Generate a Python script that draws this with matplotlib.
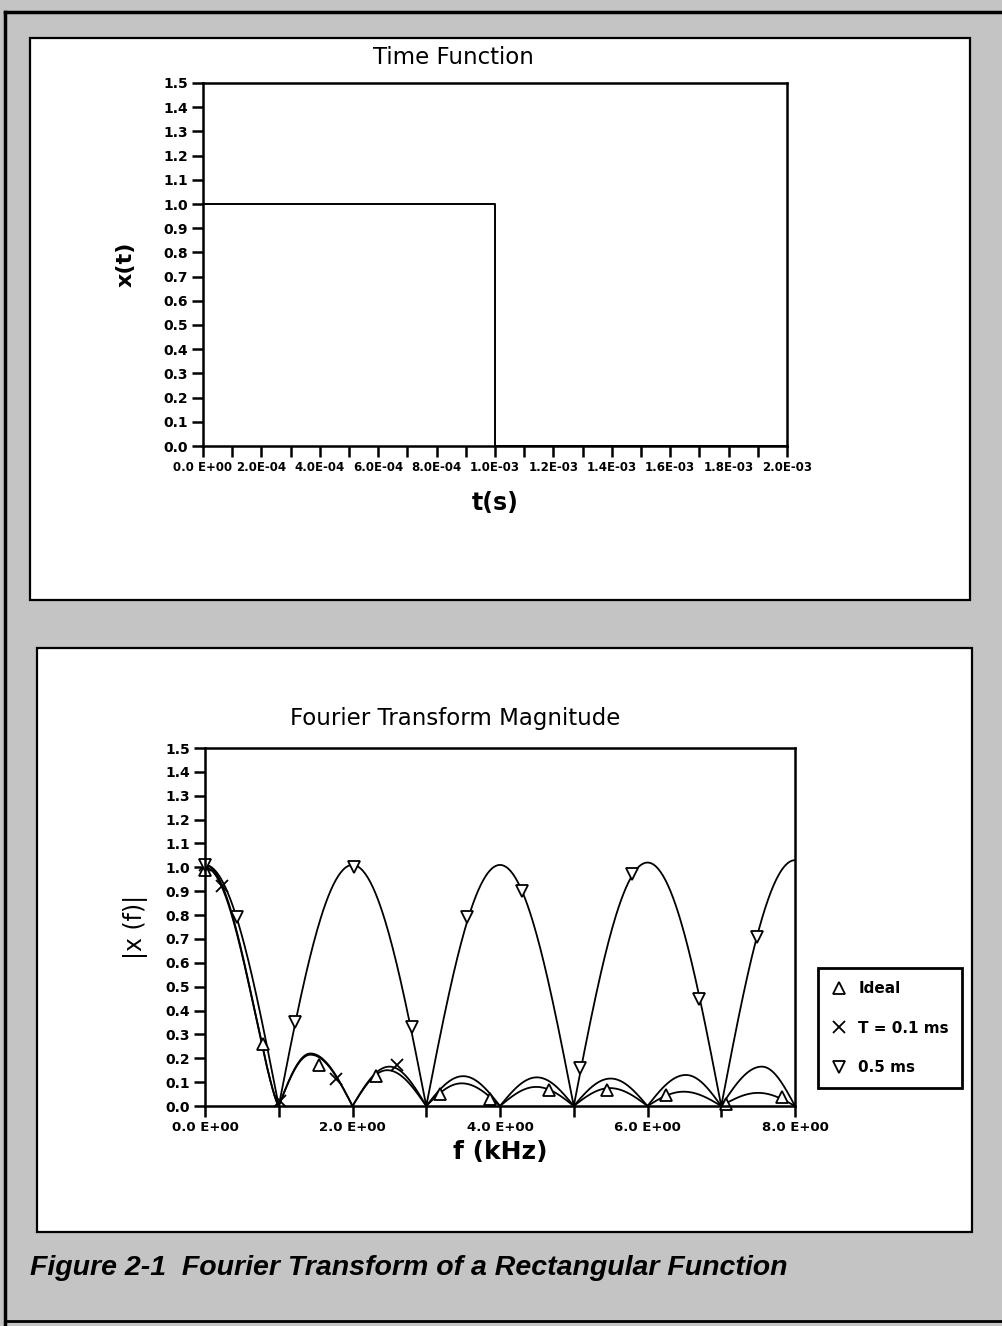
import numpy as np
import matplotlib
matplotlib.use("Agg")
import matplotlib.pyplot as plt
from matplotlib.patches import Rectangle
from matplotlib.lines import Line2D

# ---------------- data ----------------
# Time function (rectangular pulse)
time_s = [0.0, 1.0e-3, 1.0e-3, 2.0e-3]
x_t = [1.0, 1.0, 0.0, 0.0]
time_ticks = [0.0, 2e-4, 4e-4, 6e-4, 8e-4, 1.0e-3, 1.2e-3, 1.4e-3, 1.6e-3, 1.8e-3, 2.0e-3]
time_tick_labels = ["0.0 E+00", "2.0E-04", "4.0E-04", "6.0E-04", "8.0E-04", "1.0E-03",
                    "1.2E-03", "1.4E-03", "1.6E-03", "1.8E-03", "2.0E-03"]
y_ticks = [round(0.1 * i, 1) for i in range(16)]
y_tick_labels = ["%.1f" % v for v in y_ticks]

# Fourier magnitude: lobes (lobe edges = zeros, peak position, peak value)
ideal_edges = [0, 1, 2, 3, 4, 5, 6, 7, 8]
ideal_peak_f = [0.0, 1.43, 2.47, 3.48, 4.49, 5.49, 6.49, 7.50]
ideal_peak_v = [1.00, 0.215, 0.150, 0.095, 0.080, 0.075, 0.060, 0.055]

t01_edges = [0, 1, 2, 3, 4, 5, 6, 7, 8]
t01_peak_f = [0.0, 1.43, 2.50, 3.50, 4.50, 5.50, 6.52, 7.55]
t01_peak_v = [1.01, 0.220, 0.165, 0.125, 0.120, 0.115, 0.130, 0.165]

t05_edges = [0, 1, 3, 5, 7, 8]
t05_peak_f = [0.0, 2.0, 4.0, 6.0, 8.0]
t05_peak_v = [1.01, 1.01, 1.01, 1.02, 1.03]

# marker points
ideal_mk_f = [0.0, 0.79, 1.54, 2.32, 3.19, 3.87, 4.66, 5.45, 6.25, 7.07, 7.83]
ideal_mk_v = [0.99, 0.26, 0.17, 0.125, 0.05, 0.03, 0.068, 0.068, 0.046, 0.01, 0.038]
t01_mk_f = [0.0, 0.23, 1.02, 1.78, 2.60]
t01_mk_v = [1.01, 0.92, 0.02, 0.115, 0.17]
t05_mk_f = [0.0, 0.435, 1.22, 2.02, 2.80, 3.55, 4.30, 5.08, 5.79, 6.70, 7.48]
t05_mk_v = [1.01, 0.79, 0.35, 1.00, 0.33, 0.79, 0.90, 0.16, 0.97, 0.45, 0.71]

f_ticks = [0, 1, 2, 3, 4, 5, 6, 7, 8]
f_tick_labels = ["0.0 E+00", "", "2.0 E+00", "", "4.0 E+00", "", "6.0 E+00", "", "8.0 E+00"]

legend_labels = ["Ideal", "T = 0.1 ms", "0.5 ms"]


def lobe_curve(edges, peak_f, peak_v, main_exp=1.0, n=120):
    """Smooth arches through the read lobe zeros and peaks."""
    fs, vs = [], []
    for i in range(len(peak_v)):
        a, b = edges[i], edges[i + 1]
        p, h = peak_f[i], peak_v[i]
        f = np.linspace(a, b, n)
        v = np.zeros_like(f)
        left = f <= p
        if p > a:
            v[left] = h * np.sin(np.pi / 2 * (f[left] - a) / (p - a))
        else:
            v[left] = h
        right = f > p
        if b > p:
            u = (f[right] - p) / (b - p)
            e = main_exp if p == a and a == 0 else 1.0
            v[right] = h * np.clip(np.cos(np.pi / 2 * u), 0, None) ** e
        fs.append(f)
        vs.append(v)
    return np.concatenate(fs), np.concatenate(vs)


# ---------------- figure ----------------
W, H = 1002, 1326
fig = plt.figure(figsize=(W / 100, H / 100), dpi=100)
fig.patch.set_facecolor("#c4c4c4")

def fig_rect(x0, y0, x1, y1, **kw):
    r = Rectangle((x0 / W, 1 - y1 / H), (x1 - x0) / W, (y1 - y0) / H,
                  transform=fig.transFigure, **kw)
    fig.add_artist(r)

def fig_line(xs, ys, **kw):
    fig.add_artist(Line2D([x / W for x in xs], [1 - y / H for y in ys],
                          transform=fig.transFigure, **kw))

# outer frame lines
fig_line([5, 1002], [12, 12], color="black", lw=2.5, zorder=-4)
fig_line([5, 5], [12, 1326], color="black", lw=2.5, zorder=-4)
fig_line([5, 1002], [1321, 1321], color="black", lw=2.0, zorder=-4)

# white panels
fig_rect(30, 38, 970, 600, facecolor="white", edgecolor="black", lw=1.6, zorder=-5)
fig_rect(37, 648, 972, 1232, facecolor="white", edgecolor="black", lw=1.6, zorder=-5)

tick_font = dict(family="DejaVu Sans", weight="bold")


def style_axes(ax):
    for s in ax.spines.values():
        s.set_linewidth(1.8)
    ax.tick_params(axis="both", which="both", direction="out", length=8, width=1.8,
                   top=False, right=False, pad=3)
    ax.set_facecolor("none")


# ---- panel 1: time function ----
ax1 = fig.add_axes([203 / W, 1 - 446 / H, (787 - 203) / W, (446 - 83) / H])
style_axes(ax1)
ax1.plot(time_s, x_t, color="black", lw=1.4, clip_on=False)
ax1.set_xlim(0, 2.0e-3)
ax1.set_ylim(0, 1.5)
ax1.set_yticks(y_ticks)
ax1.set_yticklabels(y_tick_labels, fontsize=10, **tick_font)
ax1.set_xticks(time_ticks)
ax1.set_xticklabels(time_tick_labels, fontsize=8.5, **tick_font)
ax1.set_xticks([1e-4 * i for i in range(1, 20, 2)], minor=True)
fig.text(453 / W, 1 - 57 / H, "Time Function", fontsize=16.5, family="DejaVu Sans",
         ha="center", va="center")
ax1.set_xlabel("t(s)", fontsize=17, fontweight="bold", family="DejaVu Sans", labelpad=12)
ax1.set_ylabel("x(t)", fontsize=16, fontweight="bold", family="DejaVu Sans", labelpad=20)

# ---- panel 2: Fourier transform magnitude ----
ax2 = fig.add_axes([205 / W, 1 - 1106 / H, (795 - 205) / W, (1106 - 748) / H])
style_axes(ax2)
fi, vi = lobe_curve(ideal_edges, ideal_peak_f, ideal_peak_v, main_exp=1.3)
f1, v1 = lobe_curve(t01_edges, t01_peak_f, t01_peak_v, main_exp=1.3)
f5, v5 = lobe_curve(t05_edges, t05_peak_f, t05_peak_v, main_exp=1.0)
ax2.plot(fi, vi, color="black", lw=1.3)
ax2.plot(f1, v1, color="black", lw=1.3)
ax2.plot(f5, v5, color="black", lw=1.3)
mk = dict(color="black", linestyle="none", markersize=8, markeredgewidth=1.3, clip_on=False)
h_ideal, = ax2.plot(ideal_mk_f, ideal_mk_v, marker="^", markerfacecolor="white", **mk)
h_t01, = ax2.plot(t01_mk_f, t01_mk_v, marker="x", **mk)
h_t05, = ax2.plot(t05_mk_f, t05_mk_v, marker="v", markerfacecolor="white", **mk)
ax2.set_xlim(0, 8)
ax2.set_ylim(0, 1.5)
ax2.set_yticks(y_ticks)
ax2.set_yticklabels(y_tick_labels, fontsize=10, **tick_font)
ax2.set_xticks(f_ticks)
ax2.set_xticklabels(f_tick_labels, fontsize=9.5, **tick_font)
fig.text(455 / W, 1 - 718 / H, "Fourier Transform Magnitude", fontsize=16.5,
         family="DejaVu Sans", ha="center", va="center")
ax2.set_xlabel("f (kHz)", fontsize=18, fontweight="bold", family="DejaVu Sans", labelpad=4)
ax2.set_ylabel("|x (f)|", fontsize=17, family="DejaVu Sans", labelpad=12)

leg = ax2.legend([h_ideal, h_t01, h_t05], legend_labels, loc="lower left",
                 bbox_to_anchor=(1.039, 0.05), frameon=True, fancybox=False,
                 framealpha=1, edgecolor="black", borderpad=0.85, labelspacing=1.6,
                 handlelength=1.0, handletextpad=0.8, borderaxespad=0,
                 prop=dict(family="DejaVu Sans", weight="bold", size=11))
leg.get_frame().set_linewidth(2.0)

# caption
fig.text(30 / W, 1 - 1268 / H, "Figure 2-1  Fourier Transform of a Rectangular Function",
         fontsize=20.5, fontweight="bold", fontstyle="italic",
         family=["Liberation Sans Narrow", "Liberation Sans", "DejaVu Sans"],
         ha="left", va="center")

fig.savefig("out.png", dpi=100, facecolor=fig.get_facecolor())
